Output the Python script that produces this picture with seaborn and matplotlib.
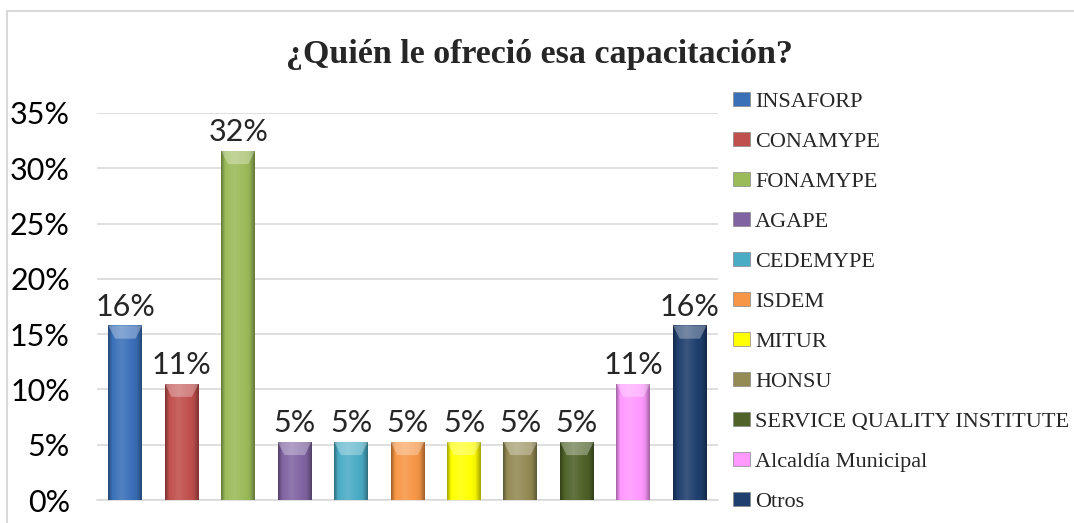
import numpy as np
import matplotlib
matplotlib.use("Agg")
import matplotlib.pyplot as plt
import seaborn as sns
from matplotlib.patches import Patch
from matplotlib.lines import Line2D
from matplotlib.colors import to_rgb
from matplotlib.ticker import MultipleLocator, FuncFormatter

# data (19 responses)
categories = ['INSAFORP', 'CONAMYPE', 'FONAMYPE', 'AGAPE', 'CEDEMYPE', 'ISDEM',
              'MITUR', 'HONSU', 'SERVICE QUALITY INSTITUTE', 'Alcaldía Municipal', 'Otros']
percentages = [15.79, 10.53, 31.58, 5.26, 5.26, 5.26, 5.26, 5.26, 5.26, 10.53, 15.79]
bar_colors = ['#3a70b8', '#c0504d', '#9bbb59', '#8064a2', '#4bacc6', '#f79646',
              '#ffff00', '#948a54', '#4f6228', '#ff99ff', '#1f3f6e']
title = '¿Quién le ofreció esa capacitación?'

sns.set_style("white")
plt.rcParams['font.family'] = ['Lato', 'DejaVu Sans']

fig = plt.figure(figsize=(10.74, 5.23), dpi=100)
ax = fig.add_axes([97 / 1074, 23 / 523, 621 / 1074, 387 / 523])

sns.barplot(x=categories, y=[p / 100 for p in percentages], hue=categories,
            palette=bar_colors, width=0.6, legend=False, ax=ax,
            edgecolor='none', zorder=3)

# fake the bevelled 3D look with a horizontal shading strip on each bar
for patch, col in zip(ax.patches, bar_colors):
    x0, y0 = patch.get_x(), patch.get_y()
    w, h = patch.get_width(), patch.get_height()
    base = np.array(to_rgb(col))
    t = np.linspace(0, 1, 60)
    shade = np.interp(t, [0, 0.12, 0.4, 0.85, 1], [-0.35, 0.0, 0.12, -0.05, -0.35])
    rgb = np.where(shade[:, None] > 0, base + (1 - base) * shade[:, None],
                   base * (1 + shade[:, None]))
    img = np.clip(rgb, 0, 1)[None, :, :]
    im = ax.imshow(img, extent=(x0, x0 + w, y0, y0 + h), aspect='auto',
                   zorder=4, interpolation='bilinear')
    im.set_clip_path(patch)
    # light top facet
    bev = 0.012
    top = plt.Polygon([[x0, y0 + h], [x0 + w, y0 + h], [x0 + w * 0.8, y0 + h - bev],
                       [x0 + w * 0.2, y0 + h - bev]], closed=True,
                      facecolor='white', alpha=0.3, edgecolor='none', zorder=5)
    ax.add_patch(top)

ax.set_ylim(0, 0.35)
ax.set_xlim(-0.5, len(categories) - 0.5)
ax.yaxis.set_major_locator(MultipleLocator(0.05))
ax.yaxis.set_major_formatter(FuncFormatter(lambda v, _: f'{v * 100:.0f}%'))
ax.grid(axis='y', color='#d9d9d9', linewidth=1.2, zorder=0)
ax.set_xticks([])
ax.set_xlabel('')
ax.set_ylabel('')
ax.tick_params(axis='y', length=0, pad=19.5, labelsize=22, colors='black')
for side in ['top', 'right', 'left']:
    ax.spines[side].set_visible(False)
ax.spines['bottom'].set_color('#d9d9d9')
ax.spines['bottom'].set_linewidth(1.2)

for patch, p in zip(ax.patches, percentages):
    ax.text(patch.get_x() + patch.get_width() / 2, patch.get_height() + 0.004,
            f'{p:.0f}%', ha='center', va='bottom', fontsize=22, zorder=6)

fig.text(539 / 1074, 1 - 63 / 523, title, ha='center', va='baseline',
         fontsize=24.5, fontweight='bold', family=['Liberation Serif', 'DejaVu Serif'])

handles = [Patch(facecolor=c, edgecolor='#888888', linewidth=0.5) for c in bar_colors]
fig.legend(handles, categories, loc='upper left', bbox_to_anchor=(733 / 1074, 1 - 92 / 523),
           frameon=False, prop={'family': 'Liberation Serif', 'size': 16},
           handlelength=0.77, handleheight=0.6, handletextpad=0.22, labelspacing=0.905,
           borderaxespad=0, borderpad=0)

# outer chart frame (left and top edges visible)
fig.add_artist(Line2D([7 / 1074, 7 / 1074], [0, 1 - 11 / 523], color='#d9d9d9', linewidth=1.5))
fig.add_artist(Line2D([7 / 1074, 1], [1 - 11 / 523, 1 - 11 / 523], color='#d9d9d9', linewidth=1.5))

fig.savefig('out.png', dpi=100)
